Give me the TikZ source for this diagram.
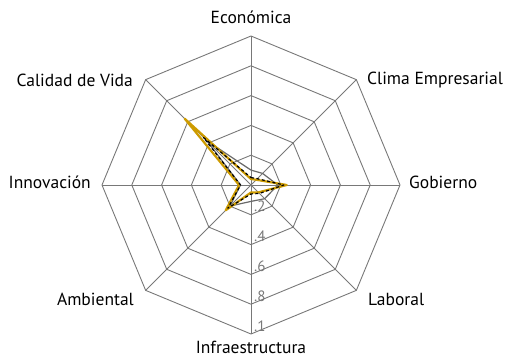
\documentclass[tikz,border=0pt]{standalone}
\usepackage{fontspec}
\setmainfont{PT Sans}
\definecolor{gridgray}{RGB}{120,120,120}
\definecolor{seriesgray}{RGB}{105,105,105}
\definecolor{gold}{RGB}{205,155,0}
\begin{document}
\begin{tikzpicture}[x=1pt,y=1pt,
  gridline/.style={draw=gridgray,line width=0.9pt},
  axlabel/.style={font=\fontsize{17.5}{19}\selectfont,inner sep=0pt},
  ticklabel/.style={font=\fontsize{15}{17}\selectfont,text=gridgray,inner sep=0pt,anchor=base west},
  grayser/.style={draw=seriesgray,line width=1.2pt,line join=round},
  goldser/.style={draw=gold,line width=2.2pt,line join=round},
  dashser/.style={draw=black,line width=1.2pt,dash pattern=on 3pt off 2.5pt,line join=round}]
\useasboundingbox (-251,-175) rectangle (263,185);
% grid rings
\foreach \k in {1,...,5}{
  \pgfmathsetmacro{\r}{\k*149/5}
  \draw[gridline] (0:\r) -- (45:\r) -- (90:\r) -- (135:\r) -- (180:\r) -- (225:\r) -- (270:\r) -- (315:\r) -- cycle;
}
% spokes
\coordinate (c) at (0,0);
\foreach \a/\n in {90/econ,45/clima,0/gob,-45/lab,-90/infra,-135/amb,180/innov,135/cal}{
  \coordinate (\n) at (\a:149);
  \draw[gridline] (c) -- (\n);
}
% series
\draw[grayser] (90:{0.10*149}) -- (45:{0.11*149}) -- (0:{0.18*149}) -- (-45:{0.13*149}) -- (-90:{0.11*149}) -- (-135:{0.20*149}) -- (180:{0.07*149}) -- (135:{0.42*149}) -- cycle;
\draw[goldser] (90:{0.04*149}) -- (45:{0.05*149}) -- (0:{0.24*149}) -- (-45:{0.07*149}) -- (-90:{0.05*149}) -- (-135:{0.24*149}) -- (180:{0.08*149}) -- (135:{0.63*149}) -- cycle;
\draw[dashser] (90:{0.05*149}) -- (45:{0.06*149}) -- (0:{0.22*149}) -- (-45:{0.08*149}) -- (-90:{0.06*149}) -- (-135:{0.22*149}) -- (180:{0.07*149}) -- (135:{0.45*149}) -- cycle;
% tick labels
\node[ticklabel] (t1) at (3,{-1*29.8+3}) {.2};
\node[ticklabel] (t2) at (3,{-2*29.8+3}) {.4};
\node[ticklabel] (t3) at (3,{-3*29.8+3}) {.6};
\node[ticklabel] (t4) at (3,{-4*29.8+3}) {.8};
\node[ticklabel] (t5) at (3,{-5*29.8+3}) {.1};
% axis labels
\node[axlabel] (Leco) at (0,168) {Económica};
\node[axlabel,anchor=west] (Lcli) at (116,105) {Clima Empresarial};
\node[axlabel,anchor=east] (Lcal) at (-118,105) {Calidad de Vida};
\node[axlabel,anchor=west] (Lgob) at (158,3) {Gobierno};
\node[axlabel,anchor=east] (Linn) at (-160,3) {Innovación};
\node[axlabel,anchor=west] (Llab) at (117,-114) {Laboral};
\node[axlabel,anchor=east] (Lamb) at (-117,-114) {Ambiental};
\node[axlabel] (Linf) at (0,-162) {Infraestructura};
\end{tikzpicture}
\end{document}
